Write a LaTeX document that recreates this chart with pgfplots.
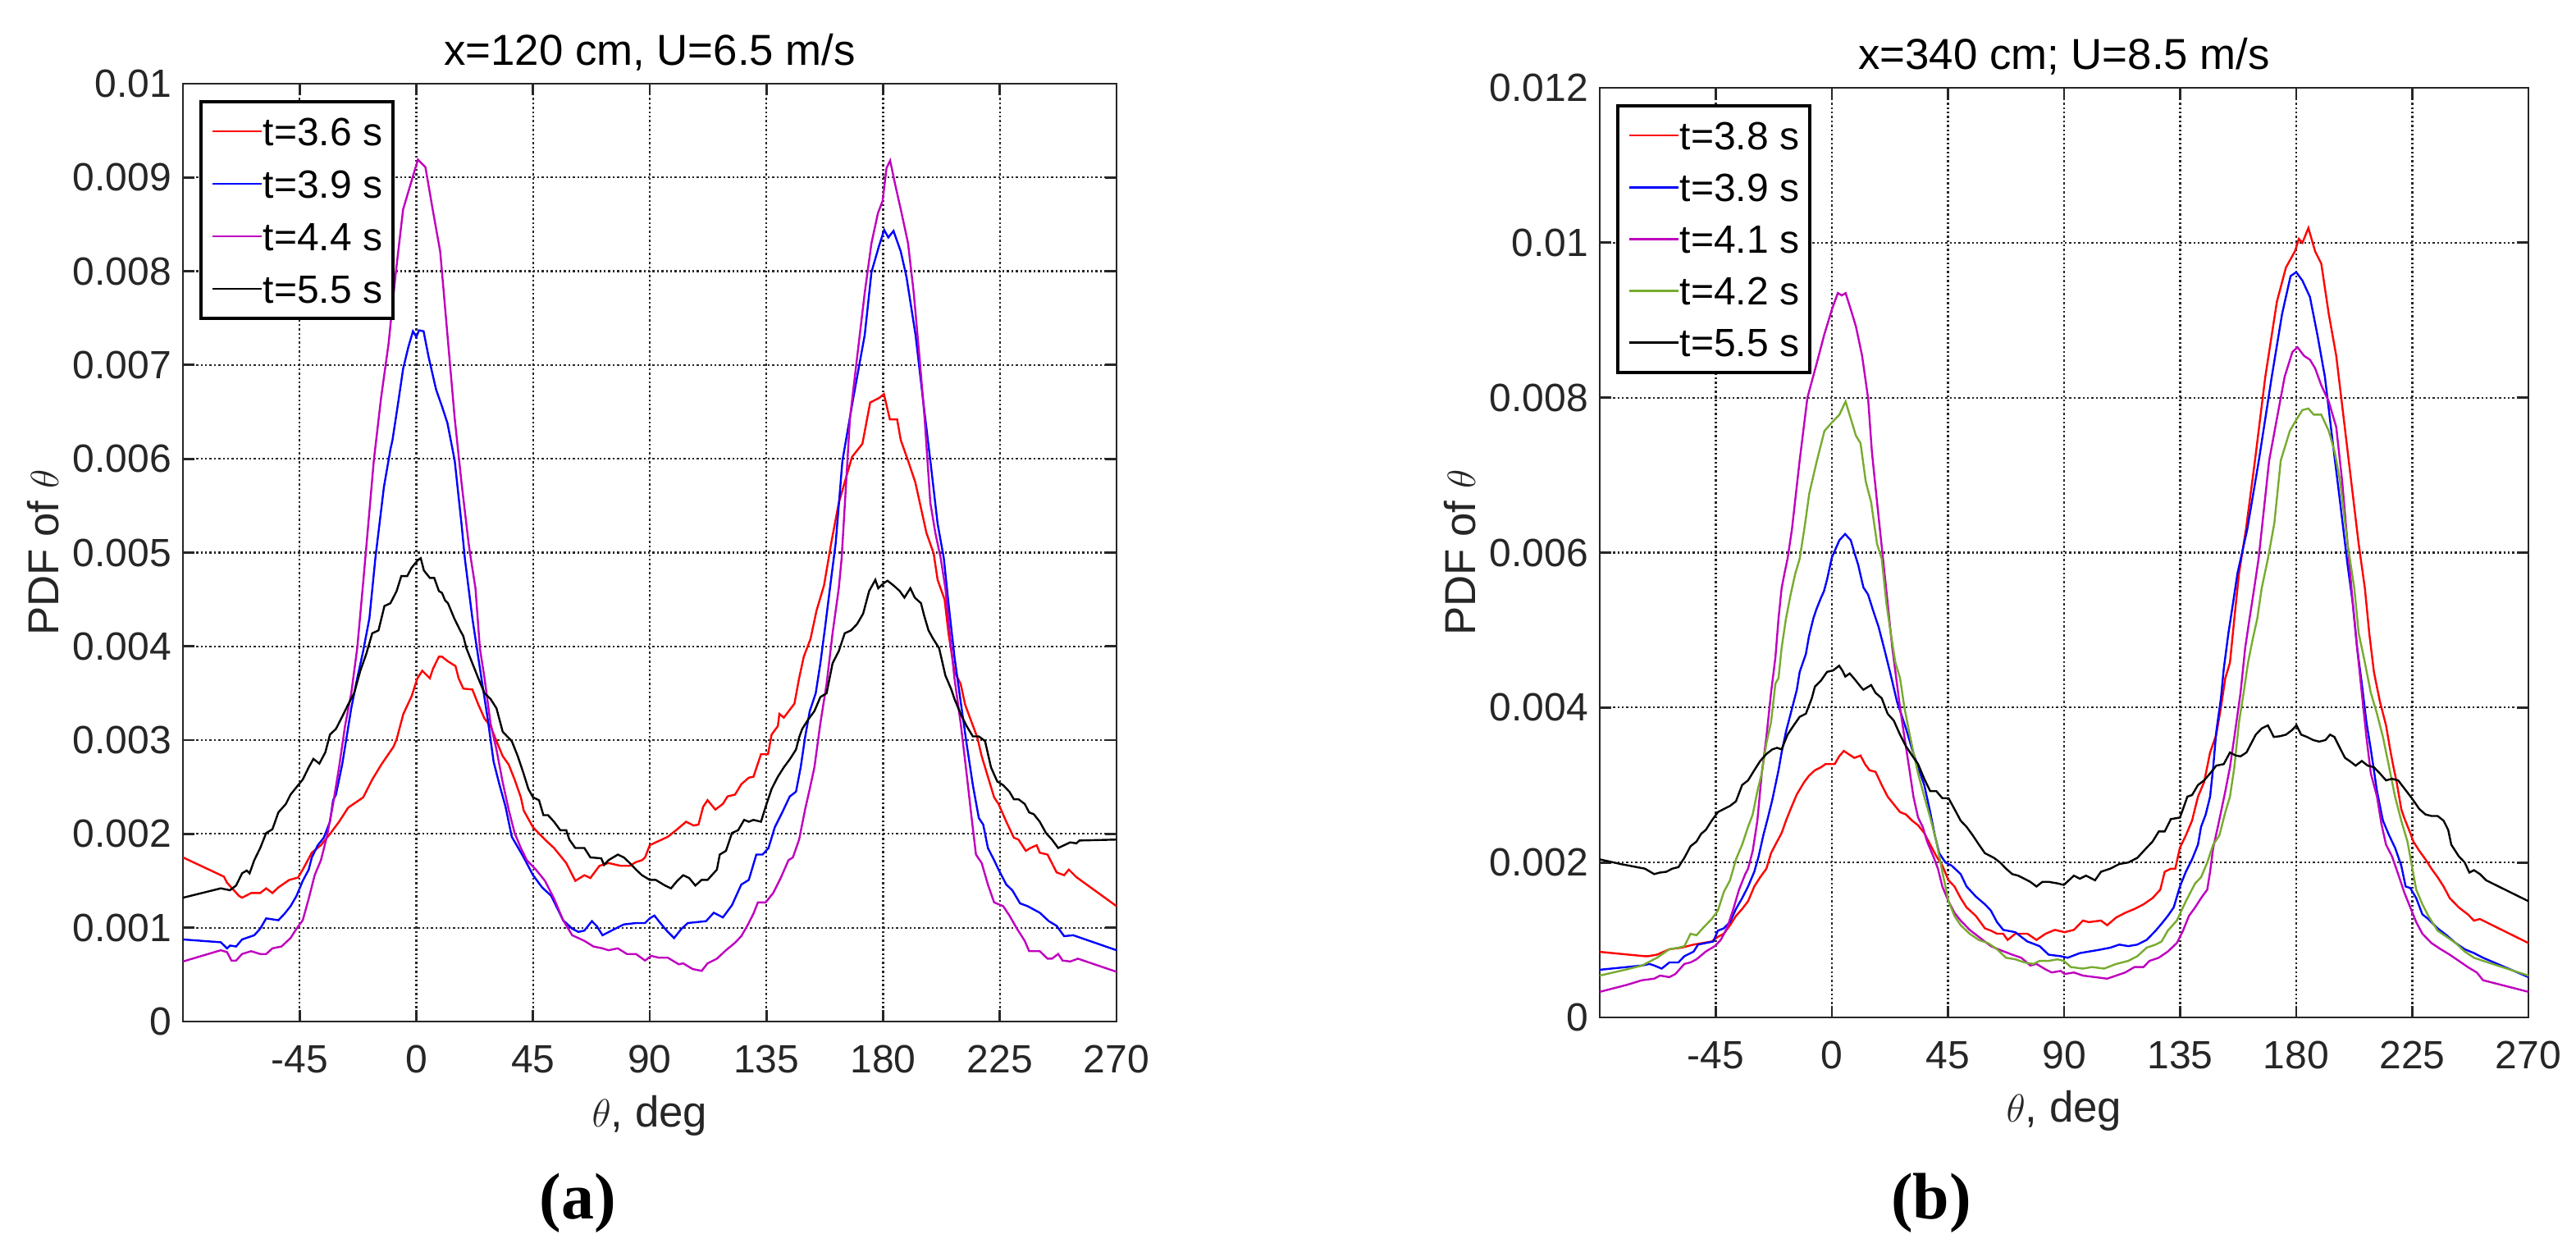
\documentclass[border=0pt]{standalone}
\usepackage{pgfplots}
\pgfplotsset{compat=1.18}
\usepackage{fontspec}
\setmainfont{Liberation Sans}
\newfontfamily\capfont{Liberation Serif}
\definecolor{axgray}{rgb}{0.15,0.15,0.15}
\definecolor{mmag}{rgb}{0.75,0,0.75}
\definecolor{mgreen}{rgb}{0.47,0.67,0.19}
\pgfplotsset{
  myax/.style={
    scale only axis, xmin=-90, xmax=270, ymin=0,
    xtick={-45,0,45,90,135,180,225,270},
    xticklabels={-45,0,45,90,135,180,225,270},
    scaled y ticks=false,
    tick align=inside, tick pos=both, major tick length=3.5pt,
    grid=major,
    major grid style={dash pattern=on 0.6pt off 0.75pt, line width=0.55pt, color=axgray},
    axis line style={line width=0.7pt, color=axgray},
    every tick/.style={line width=0.7pt, color=axgray},
    tick label style={font=\fontsize{12}{14}\selectfont, text=axgray},
    xticklabel style={anchor=base, yshift=-15.6pt},
    every axis title/.style={at={(0.5,1)}, anchor=base, yshift=5.5pt, font=\fontsize{13.2}{15}\selectfont},
    every axis x label/.style={at={(0.5,-0.1121)}, anchor=base, font=\fontsize{13.2}{15}\selectfont, text=axgray},
    every axis y label/.style={at={(-0.1334,0.5)}, rotate=90, anchor=base, font=\fontsize{13.2}{15}\selectfont, text=axgray},
    xlabel={$\theta$, deg}, ylabel={PDF of $\theta$},
    legend cell align=left,
    legend image code/.code={\draw[#1, line width=0.7pt] (0pt,0pt) -- (15pt,0pt);},
    legend style={at={(0,1)}, anchor=north west, xshift=5pt, yshift=-5pt,
      draw=black, line width=1pt, fill=white, font=\fontsize{12}{14}\selectfont,
      inner xsep=3.25pt, inner ysep=4.7pt,
      /tikz/every even column/.append style={column sep=1.25pt},
      nodes={inner sep=0pt, text height=8.6pt, text depth=0pt}},
    every axis plot/.append style={line width=0.6pt},
  }
}
\begin{document}
\begin{tikzpicture}
\useasboundingbox (0,0) rectangle (785pt,383pt);
% ---------------- (a) ----------------
\begin{axis}[myax, at={(55.75pt,71.75pt)}, anchor=south west,
  width=284.5pt, height=285.75pt, ymax=0.01,
  ytick={0,0.001,0.002,0.003,0.004,0.005,0.006,0.007,0.008,0.009,0.01},
  yticklabels={0,0.001,0.002,0.003,0.004,0.005,0.006,0.007,0.008,0.009,0.01},
  title={x=120 cm, U=6.5 m/s},
  legend style={row sep=7.4pt}]
\addplot[red] coordinates {(-90,1.75e-3)(-74.2,1.545e-3)(-73,1.48e-3)(-68.4,1.34e-3)(-67.2,1.32e-3)(-63.7,1.37e-3)(-60.2,1.37e-3)(-57.9,1.42e-3)(-55.5,1.37e-3)(-53.2,1.43e-3)(-49,1.51e-3)(-45.6,1.535e-3)(-43.8,1.62e-3)(-40.3,1.80e-3)(-36.8,1.88e-3)(-33.3,2.0e-3)(-29.8,2.13e-3)(-26.3,2.28e-3)(-20.5,2.39e-3)(-17,2.58e-3)(-13.5,2.74e-3)(-8.8,2.93e-3)(-7.6,3.01e-3)(-5,3.28e-3)(-1.8,3.47e-3)(0.4,3.66e-3)(2.3,3.74e-3)(5.2,3.66e-3)(6.4,3.76e-3)(8.7,3.89e-3)(9.9,3.89e-3)(12.2,3.84e-3)(15.1,3.79e-3)(16.3,3.66e-3)(18.1,3.55e-3)(21.6,3.54e-3)(23.9,3.38e-3)(26.3,3.23e-3)(28.6,3.15e-3)(30.9,2.99e-3)(33.3,2.83e-3)(35.6,2.74e-3)(37.9,2.58e-3)(40.3,2.39e-3)(41.4,2.25e-3)(45,2.07e-3)(49.6,1.94e-3)(53.1,1.85e-3)(57.8,1.69e-3)(61.3,1.50e-3)(64.8,1.56e-3)(67.1,1.53e-3)(70.6,1.66e-3)(74.1,1.69e-3)(78.8,1.66e-3)(82.3,1.66e-3)(84.7,1.70e-3)(87,1.72e-3)(88.2,1.75e-3)(90,1.88e-3)(92.3,1.91e-3)(97,1.97e-3)(100.6,2.05e-3)(104,2.13e-3)(106.9,2.09e-3)(108.8,2.10e-3)(110.6,2.29e-3)(112.3,2.36e-3)(115.3,2.26e-3)(118.2,2.32e-3)(120,2.40e-3)(122.9,2.42e-3)(125.3,2.53e-3)(128.2,2.60e-3)(130,2.61e-3)(132.9,2.85e-3)(135.6,2.85e-3)(137,3.06e-3)(139.4,3.15e-3)(140,3.28e-3)(141.7,3.24e-3)(145.8,3.39e-3)(147.6,3.66e-3)(149.4,3.89e-3)(152,4.08e-3)(154.3,4.38e-3)(157.2,4.65e-3)(160.1,5.12e-3)(162.9,5.53e-3)(168,6.02e-3)(172,6.16e-3)(175,6.60e-3)(178.5,6.65e-3)(180.3,6.69e-3)(182.6,6.42e-3)(185.4,6.42e-3)(186.8,6.20e-3)(189.6,5.98e-3)(192.4,5.75e-3)(196.7,5.21e-3)(199.5,4.99e-3)(201,4.71e-3)(203.7,4.5e-3)(205.2,4.14e-3)(207.5,3.73e-3)(209.9,3.60e-3)(211.6,3.38e-3)(214,3.20e-3)(216.3,3.03e-3)(218,2.83e-3)(220.4,2.61e-3)(222.8,2.39e-3)(224.5,2.32e-3)(227.5,2.13e-3)(230.4,1.96e-3)(232.2,1.94e-3)(235,1.82e-3)(236.8,1.85e-3)(239.2,1.88e-3)(240.4,1.80e-3)(243.4,1.78e-3)(246.9,1.59e-3)(249.8,1.56e-3)(251.6,1.62e-3)(254.5,1.54e-3)(270,1.23e-3)};
\addlegendentry{t=3.6 s}
\addplot[blue] coordinates {(-90,0.875e-3)(-75.4,0.845e-3)(-73,0.78e-3)(-71.8,0.81e-3)(-69.5,0.80e-3)(-67.2,0.875e-3)(-62.5,0.92e-3)(-60.2,0.99e-3)(-57.9,1.10e-3)(-53.2,1.08e-3)(-50.8,1.15e-3)(-48.5,1.23e-3)(-46.2,1.34e-3)(-43.8,1.50e-3)(-41.5,1.62e-3)(-40.3,1.75e-3)(-38,1.88e-3)(-35.7,1.96e-3)(-33.3,2.13e-3)(-32.1,2.36e-3)(-31,2.42e-3)(-28.6,2.74e-3)(-26.9,3.03e-3)(-25.1,3.34e-3)(-22.8,3.66e-3)(-20.5,3.95e-3)(-18.1,4.30e-3)(-15.8,4.94e-3)(-12.5,5.7e-3)(-10,6.1e-3)(-9.2,6.2e-3)(-7,6.6e-3)(-5.1,6.96e-3)(-3,7.2e-3)(-1.3,7.36e-3)(0,7.30e-3)(1,7.37e-3)(2.8,7.36e-3)(4.7,7.09e-3)(7.6,6.74e-3)(10,6.55e-3)(12,6.38e-3)(14.8,5.98e-3)(17.4,5.31e-3)(18.7,4.94e-3)(21.6,4.30e-3)(25.1,3.66e-3)(27.4,3.25e-3)(29.8,2.77e-3)(32.1,2.52e-3)(34.4,2.29e-3)(36.8,1.97e-3)(39.1,1.86e-3)(41.4,1.75e-3)(45,1.56e-3)(48.5,1.43e-3)(52,1.34e-3)(54.3,1.21e-3)(56.6,1.08e-3)(60.1,0.99e-3)(62.5,0.955e-3)(64.8,0.97e-3)(67.7,1.07e-3)(69.5,1.02e-3)(71.8,0.92e-3)(75.3,0.97e-3)(80,1.035e-3)(84.7,1.05e-3)(88.2,1.05e-3)(90,1.10e-3)(91.8,1.13e-3)(93.5,1.07e-3)(96.5,0.97e-3)(99.4,0.89e-3)(102.3,0.99e-3)(104.7,1.05e-3)(111.7,1.07e-3)(114.7,1.16e-3)(118.2,1.11e-3)(121.7,1.24e-3)(125.3,1.46e-3)(128.2,1.51e-3)(131.1,1.78e-3)(133.5,1.78e-3)(135.8,1.85e-3)(138.2,2.07e-3)(141.1,2.23e-3)(144,2.40e-3)(146.4,2.45e-3)(148.2,2.71e-3)(149.9,3.03e-3)(151.7,3.31e-3)(154,3.50e-3)(155.8,3.82e-3)(157.6,4.20e-3)(159.9,4.71e-3)(161.7,5.1e-3)(164.3,5.98e-3)(168.5,6.65e-3)(172.9,7.32e-3)(175.5,7.99e-3)(178.3,8.26e-3)(180.4,8.44e-3)(182,8.36e-3)(184,8.43e-3)(186.8,8.21e-3)(189,7.94e-3)(192.5,7.32e-3)(195.3,6.65e-3)(198.2,5.98e-3)(201,5.31e-3)(203.4,4.94e-3)(205.2,4.46e-3)(207.5,3.89e-3)(209.9,3.41e-3)(212.2,2.96e-3)(214.6,2.52e-3)(216.9,2.17e-3)(218.6,2.10e-3)(220.4,1.85e-3)(222.8,1.72e-3)(224.5,1.62e-3)(227.5,1.46e-3)(229.8,1.40e-3)(232.8,1.26e-3)(235.7,1.23e-3)(240.4,1.16e-3)(243.9,1.07e-3)(246.9,1.02e-3)(249.8,0.91e-3)(253.3,0.92e-3)(270,0.76e-3)};
\addlegendentry{t=3.9 s}
\addplot[mmag] coordinates {(-90,0.64e-3)(-75.4,0.76e-3)(-73,0.74e-3)(-71.3,0.65e-3)(-69.5,0.65e-3)(-67.2,0.72e-3)(-63.7,0.75e-3)(-60.2,0.72e-3)(-57.9,0.72e-3)(-55.5,0.78e-3)(-52,0.80e-3)(-48.5,0.89e-3)(-46.2,0.99e-3)(-43.8,1.08e-3)(-41.5,1.31e-3)(-39.2,1.56e-3)(-36.8,1.72e-3)(-34.5,1.97e-3)(-32.1,2.32e-3)(-29.8,2.71e-3)(-27.5,3.15e-3)(-25.1,3.50e-3)(-22.8,3.98e-3)(-20.5,4.68e-3)(-19.2,5.09e-3)(-16.4,5.98e-3)(-13.6,6.65e-3)(-10.7,7.23e-3)(-7.9,7.99e-3)(-5.1,8.66e-3)(-2.2,8.93e-3)(0.6,9.19e-3)(3.5,9.11e-3)(6.3,8.66e-3)(9.2,8.21e-3)(12,7.32e-3)(14.8,6.43e-3)(17.4,5.75e-3)(20.2,5.09e-3)(21,4.94e-3)(22.8,4.62e-3)(24.5,3.98e-3)(26.3,3.66e-3)(28.6,3.18e-3)(30.9,2.90e-3)(33.3,2.55e-3)(35.6,2.26e-3)(37.9,2.01e-3)(40.3,1.85e-3)(42.6,1.72e-3)(46.1,1.62e-3)(49.6,1.50e-3)(53.1,1.31e-3)(56.6,1.08e-3)(60.1,0.92e-3)(64.8,0.86e-3)(68.3,0.80e-3)(71.8,0.78e-3)(74.1,0.76e-3)(77.7,0.78e-3)(81.2,0.72e-3)(84.7,0.72e-3)(88.2,0.65e-3)(90.6,0.70e-3)(93.5,0.68e-3)(97,0.68e-3)(99.4,0.64e-3)(101.2,0.61e-3)(102.9,0.62e-3)(106.5,0.56e-3)(110,0.54e-3)(112.3,0.62e-3)(115.9,0.67e-3)(119.4,0.76e-3)(122.9,0.84e-3)(125.3,0.91e-3)(127.6,1.02e-3)(130,1.15e-3)(131.7,1.27e-3)(134.7,1.27e-3)(137.6,1.37e-3)(140.5,1.53e-3)(143.5,1.72e-3)(145.2,1.75e-3)(147.6,1.94e-3)(149.9,2.26e-3)(151.7,2.48e-3)(153.5,2.71e-3)(155.8,3.18e-3)(158.2,3.60e-3)(160.5,4.14e-3)(162.9,4.62e-3)(164,4.94e-3)(167.2,6.43e-3)(170,7.09e-3)(172.9,7.77e-3)(175.5,8.30e-3)(178,8.62e-3)(179.8,8.75e-3)(181.3,9.1e-3)(182.7,9.18e-3)(184.6,8.93e-3)(186.8,8.66e-3)(189.6,8.30e-3)(191.8,7.77e-3)(194,7.09e-3)(196,6.43e-3)(198.2,5.53e-3)(200.2,5.2e-3)(202.2,4.94e-3)(204,4.62e-3)(205.7,4.14e-3)(207.5,3.66e-3)(209.9,3.18e-3)(212.2,2.64e-3)(214,2.2e-3)(215.8,1.78e-3)(218,1.69e-3)(220.4,1.46e-3)(222.8,1.27e-3)(226.3,1.23e-3)(228.7,1.13e-3)(231.6,0.99e-3)(234.6,0.86e-3)(236.3,0.75e-3)(240.4,0.75e-3)(243.4,0.67e-3)(245.1,0.67e-3)(247.5,0.72e-3)(249.2,0.65e-3)(252.2,0.64e-3)(255.1,0.67e-3)(270,0.53e-3)};
\addlegendentry{t=4.4 s}
\addplot[black] coordinates {(-90,1.32e-3)(-75.4,1.42e-3)(-71.9,1.40e-3)(-69.5,1.45e-3)(-67.2,1.58e-3)(-65.4,1.61e-3)(-64.3,1.58e-3)(-62.5,1.72e-3)(-60.2,1.85e-3)(-57.9,2.01e-3)(-55.5,2.05e-3)(-53.2,2.23e-3)(-50.3,2.32e-3)(-48.5,2.42e-3)(-45.6,2.52e-3)(-43.8,2.58e-3)(-41.5,2.71e-3)(-39.7,2.80e-3)(-37.4,2.75e-3)(-35.1,2.87e-3)(-33.3,3.06e-3)(-31,3.12e-3)(-28.6,3.25e-3)(-26.3,3.38e-3)(-24,3.50e-3)(-21.6,3.74e-3)(-19.3,3.92e-3)(-17,4.14e-3)(-14.6,4.17e-3)(-12.3,4.43e-3)(-10,4.46e-3)(-7.6,4.59e-3)(-5.8,4.75e-3)(-3.5,4.75e-3)(-1.8,4.84e-3)(0.6,4.92e-3)(1.7,4.94e-3)(2.9,4.81e-3)(5.2,4.73e-3)(6.9,4.73e-3)(8.7,4.59e-3)(9.9,4.57e-3)(11.1,4.49e-3)(12.2,4.46e-3)(14.6,4.30e-3)(16.9,4.17e-3)(18.1,4.11e-3)(19.3,3.98e-3)(21.6,3.82e-3)(23.9,3.66e-3)(26.3,3.50e-3)(28.6,3.44e-3)(30.9,3.34e-3)(33.3,3.09e-3)(36.8,2.99e-3)(39.1,2.83e-3)(41.4,2.64e-3)(43.2,2.48e-3)(45,2.39e-3)(47.3,2.36e-3)(49,2.20e-3)(50.8,2.20e-3)(53.1,2.13e-3)(55.5,2.04e-3)(57.8,2.04e-3)(59,1.94e-3)(61.3,1.85e-3)(64.8,1.85e-3)(67.1,1.75e-3)(71.3,1.74e-3)(72.4,1.67e-3)(74.1,1.72e-3)(77.7,1.78e-3)(80,1.75e-3)(82.3,1.69e-3)(84.7,1.62e-3)(87,1.56e-3)(90,1.51e-3)(92.3,1.51e-3)(95.9,1.45e-3)(98.2,1.42e-3)(100.6,1.50e-3)(102.9,1.56e-3)(105.2,1.53e-3)(107.6,1.45e-3)(110,1.51e-3)(112.3,1.51e-3)(115.9,1.62e-3)(117,1.78e-3)(119.4,1.82e-3)(121.7,2.01e-3)(124.1,2.04e-3)(126.4,2.15e-3)(128.2,2.13e-3)(130,2.15e-3)(132.9,2.13e-3)(134.7,2.29e-3)(137,2.48e-3)(139.4,2.61e-3)(141.7,2.71e-3)(144.1,2.80e-3)(146.4,2.90e-3)(147.6,3.03e-3)(148.8,3.12e-3)(151.1,3.22e-3)(153.5,3.31e-3)(155.8,3.46e-3)(158.2,3.50e-3)(160.5,3.82e-3)(162.9,3.95e-3)(165.2,4.14e-3)(167.6,4.17e-3)(170,4.24e-3)(172.3,4.35e-3)(174.6,4.59e-3)(177,4.71e-3)(178.1,4.62e-3)(180.5,4.68e-3)(181.7,4.70e-3)(184,4.65e-3)(186.4,4.59e-3)(188.2,4.52e-3)(190.5,4.62e-3)(192.2,4.52e-3)(194.6,4.46e-3)(195.8,4.33e-3)(197.5,4.17e-3)(199.3,4.08e-3)(201.6,3.98e-3)(204,3.69e-3)(206.3,3.54e-3)(207.5,3.44e-3)(209.9,3.28e-3)(212.2,3.15e-3)(214.6,3.04e-3)(216.9,3.04e-3)(219.3,2.99e-3)(221.6,2.71e-3)(224,2.56e-3)(226.3,2.52e-3)(228.7,2.45e-3)(230.4,2.37e-3)(232.2,2.37e-3)(234.6,2.32e-3)(236.3,2.23e-3)(238.1,2.21e-3)(240.4,2.13e-3)(242.8,2.01e-3)(245.1,1.94e-3)(247.5,1.85e-3)(249.8,1.88e-3)(252.1,1.91e-3)(254.5,1.90e-3)(255.7,1.93e-3)(270,1.94e-3)};
\addlegendentry{t=5.5 s}
\end{axis}
% ---------------- (b) ----------------
\begin{axis}[myax, at={(487.5pt,73pt)}, anchor=south west,
  width=283pt, height=283.25pt, ymax=0.012,
  ytick={0,0.002,0.004,0.006,0.008,0.01,0.012},
  yticklabels={0,0.002,0.004,0.006,0.008,0.01,0.012},
  title={x=340 cm; U=8.5 m/s},
  legend style={row sep=7.2pt}]
\addplot[red] coordinates {(-90,0.846e-3)(-72.5,0.79e-3)(-71.3,0.79e-3)(-67.8,0.81e-3)(-63,0.88e-3)(-58.4,0.90e-3)(-53.6,0.94e-3)(-50.1,0.96e-3)(-46.6,0.98e-3)(-44.2,1.04e-3)(-41.9,1.08e-3)(-39.5,1.19e-3)(-37.2,1.31e-3)(-34.8,1.40e-3)(-32.5,1.50e-3)(-30.1,1.69e-3)(-27.8,1.81e-3)(-25.4,1.92e-3)(-23.6,2.12e-3)(-21.9,2.23e-3)(-19.5,2.38e-3)(-17.8,2.54e-3)(-16,2.69e-3)(-13.6,2.88e-3)(-10.7,3.04e-3)(-8.9,3.12e-3)(-6.6,3.19e-3)(-4.2,3.23e-3)(-2.5,3.27e-3)(-0.7,3.27e-3)(1.1,3.27e-3)(2.8,3.37e-3)(4.6,3.44e-3)(6.4,3.40e-3)(8.7,3.35e-3)(11.1,3.38e-3)(12.8,3.27e-3)(14.6,3.19e-3)(16.9,3.17e-3)(19.3,3.0e-3)(21.6,2.85e-3)(24,2.75e-3)(26.4,2.65e-3)(28.7,2.62e-3)(31.1,2.54e-3)(33.4,2.48e-3)(35.8,2.38e-3)(38.1,2.23e-3)(40.5,2.08e-3)(42.8,1.96e-3)(45.2,1.77e-3)(47.5,1.69e-3)(49.9,1.54e-3)(52.2,1.42e-3)(55.8,1.31e-3)(59.3,1.15e-3)(61.6,1.12e-3)(64,1.08e-3)(66.4,1.08e-3)(68.1,1.0e-3)(71.1,1.08e-3)(75.8,1.08e-3)(79.3,1.0e-3)(82.8,1.08e-3)(86.4,1.13e-3)(90.2,1.10e-3)(93.8,1.13e-3)(97.3,1.25e-3)(99.6,1.23e-3)(104.3,1.25e-3)(106.7,1.19e-3)(110.2,1.29e-3)(113.7,1.35e-3)(117.3,1.40e-3)(120.8,1.46e-3)(124.3,1.54e-3)(127.3,1.65e-3)(129,1.88e-3)(131.4,1.92e-3)(133.1,1.92e-3)(134.9,2.19e-3)(137.2,2.35e-3)(139.6,2.54e-3)(141.9,2.85e-3)(144.3,3.04e-3)(146.6,3.42e-3)(149,3.65e-3)(150.8,4.0e-3)(152.5,4.38e-3)(154.3,4.58e-3)(156,5.15e-3)(157.8,5.73e-3)(160.5,6.3e-3)(164,7.19e-3)(168,8.27e-3)(172.5,9.24e-3)(176,9.68e-3)(179.5,9.89e-3)(181,10.05e-3)(182.4,10.0e-3)(184.7,10.19e-3)(187.3,9.89e-3)(189.7,9.73e-3)(192.6,9.08e-3)(195.5,8.54e-3)(198.4,7.73e-3)(201.3,6.92e-3)(204.2,6.11e-3)(206.6,5.54e-3)(208.3,4.96e-3)(210.1,4.46e-3)(212.4,4.08e-3)(214.8,3.77e-3)(216.6,3.42e-3)(217.7,3.23e-3)(218.9,3.04e-3)(220.7,2.69e-3)(221.8,2.58e-3)(224.2,2.38e-3)(225.4,2.27e-3)(227.7,2.15e-3)(230.1,2.04e-3)(232.4,1.92e-3)(234.8,1.81e-3)(237.1,1.69e-3)(239.5,1.54e-3)(243,1.42e-3)(246.5,1.33e-3)(248.9,1.25e-3)(251.2,1.27e-3)(253.6,1.23e-3)(270,0.96e-3)};
\addlegendentry{t=3.8 s}
\addplot[blue] coordinates {(-90,0.615e-3)(-73.6,0.67e-3)(-70.7,0.69e-3)(-68.9,0.67e-3)(-66,0.63e-3)(-63,0.71e-3)(-59.5,0.71e-3)(-57.2,0.79e-3)(-53.6,0.85e-3)(-51.9,0.94e-3)(-48.9,0.96e-3)(-46,0.98e-3)(-44.2,1.12e-3)(-41.9,1.15e-3)(-39.5,1.23e-3)(-37.2,1.40e-3)(-34.8,1.54e-3)(-32.5,1.69e-3)(-30.1,1.88e-3)(-28.4,2.08e-3)(-26.6,2.35e-3)(-24.8,2.58e-3)(-23.1,2.81e-3)(-20.7,3.19e-3)(-19.5,3.42e-3)(-17.8,3.69e-3)(-16,3.92e-3)(-13.6,4.23e-3)(-12.5,4.46e-3)(-10.1,4.69e-3)(-8.9,4.92e-3)(-7.2,5.15e-3)(-6,5.27e-3)(-4.2,5.42e-3)(-3.1,5.5e-3)(-1.9,5.65e-3)(0,5.94e-3)(2.9,6.16e-3)(5.1,6.24e-3)(7.3,6.16e-3)(8.7,6.0e-3)(10.2,5.84e-3)(12.2,5.55e-3)(14,5.46e-3)(15.8,5.27e-3)(18.1,5.04e-3)(20.5,4.73e-3)(22.8,4.42e-3)(25.2,4.08e-3)(26.4,3.96e-3)(28.7,3.73e-3)(31.1,3.46e-3)(33.4,3.23e-3)(35.8,3.0e-3)(38.1,2.65e-3)(39.9,2.35e-3)(41.6,2.12e-3)(44,2.0e-3)(46.4,1.96e-3)(49.9,1.85e-3)(52.2,1.69e-3)(55.8,1.56e-3)(59.3,1.46e-3)(61.6,1.38e-3)(64,1.23e-3)(66.4,1.13e-3)(71.1,1.10e-3)(73.4,1.04e-3)(75.8,0.98e-3)(80.5,0.92e-3)(84,0.81e-3)(88.7,0.79e-3)(91.4,0.77e-3)(96.1,0.83e-3)(99.6,0.85e-3)(103.2,0.87e-3)(107.9,0.90e-3)(111.4,0.94e-3)(114.9,0.92e-3)(118.4,0.94e-3)(122,1.0e-3)(125.5,1.12e-3)(127.8,1.21e-3)(130.2,1.31e-3)(132.5,1.42e-3)(134.9,1.69e-3)(137.2,1.88e-3)(139.6,2.04e-3)(141.9,2.23e-3)(143.1,2.46e-3)(144.9,2.62e-3)(146.6,2.85e-3)(147.8,3.23e-3)(149,3.69e-3)(150.8,4.12e-3)(151.9,4.50e-3)(153.7,4.96e-3)(155.5,5.35e-3)(157.2,5.73e-3)(161,6.3e-3)(165.5,7.19e-3)(170.5,8.27e-3)(174.5,9.08e-3)(177.8,9.57e-3)(180,9.62e-3)(182.4,9.51e-3)(185.3,9.30e-3)(188.2,8.81e-3)(191.1,8.27e-3)(194,7.46e-3)(197,6.65e-3)(199.9,5.84e-3)(201.9,5.35e-3)(203.6,4.77e-3)(205.4,4.31e-3)(207.2,3.81e-3)(208.9,3.46e-3)(211.3,2.92e-3)(213.6,2.54e-3)(216,2.35e-3)(218.3,2.19e-3)(220.7,1.96e-3)(222.4,1.69e-3)(224.2,1.67e-3)(226.5,1.54e-3)(228.9,1.33e-3)(231.2,1.27e-3)(234.8,1.15e-3)(238.3,1.06e-3)(241.8,0.96e-3)(245.3,0.88e-3)(248.9,0.83e-3)(252.4,0.77e-3)(270,0.52e-3)};
\addlegendentry{t=3.9 s}
\addplot[mmag] coordinates {(-90,0.33e-3)(-79.5,0.42e-3)(-73.6,0.48e-3)(-68.9,0.50e-3)(-66.6,0.54e-3)(-63,0.52e-3)(-60.7,0.56e-3)(-57.2,0.69e-3)(-54.8,0.71e-3)(-52.5,0.75e-3)(-48.9,0.85e-3)(-45.4,0.92e-3)(-43.1,1.0e-3)(-40.7,1.15e-3)(-38.4,1.38e-3)(-36,1.65e-3)(-33.6,1.85e-3)(-32.5,1.92e-3)(-30.7,2.15e-3)(-28.9,2.54e-3)(-27.2,3.15e-3)(-25.4,3.62e-3)(-23.6,4.19e-3)(-21.9,4.65e-3)(-20.7,5.15e-3)(-19.5,5.54e-3)(-18.4,5.73e-3)(-17.2,5.92e-3)(-15.5,6.3e-3)(-12.5,7.19e-3)(-9.5,8.0e-3)(-6,8.43e-3)(-3,8.81e-3)(0,9.14e-3)(2.3,9.35e-3)(3.8,9.32e-3)(5.3,9.35e-3)(7.3,9.14e-3)(9.3,8.92e-3)(11.7,8.54e-3)(14,8.0e-3)(15.5,7.3e-3)(17.5,6.65e-3)(20.5,5.7e-3)(21.6,5.35e-3)(23.4,4.77e-3)(25.2,4.31e-3)(26.4,4.0e-3)(28.1,3.62e-3)(29.9,3.23e-3)(31.6,2.85e-3)(33.4,2.58e-3)(35.2,2.46e-3)(36.9,2.27e-3)(39.3,2.08e-3)(41.1,1.92e-3)(42.8,1.69e-3)(45.2,1.50e-3)(47.5,1.35e-3)(49.9,1.25e-3)(53.4,1.13e-3)(56.9,1.04e-3)(61.6,0.92e-3)(65.2,0.87e-3)(69.9,0.81e-3)(73.4,0.77e-3)(76.9,0.67e-3)(79.3,0.69e-3)(82.8,0.62e-3)(85.2,0.58e-3)(88.7,0.60e-3)(90.2,0.56e-3)(93.8,0.58e-3)(97.3,0.54e-3)(102,0.52e-3)(106.7,0.50e-3)(110.2,0.54e-3)(113.7,0.58e-3)(117.3,0.65e-3)(120.8,0.65e-3)(123.1,0.73e-3)(126.7,0.77e-3)(130.2,0.85e-3)(133.7,0.96e-3)(136.1,1.12e-3)(138.4,1.31e-3)(140.8,1.42e-3)(143.1,1.54e-3)(145.5,1.65e-3)(146.6,1.88e-3)(147.8,2.19e-3)(149.6,2.46e-3)(150.8,2.65e-3)(152.5,2.92e-3)(154.3,3.23e-3)(156,3.62e-3)(158.4,4.19e-3)(160.2,4.77e-3)(161.9,5.15e-3)(163.7,5.54e-3)(165.4,5.92e-3)(169.5,7.19e-3)(172.5,7.73e-3)(175.5,8.27e-3)(178.5,8.59e-3)(180.5,8.65e-3)(183,8.54e-3)(185.3,8.49e-3)(187.3,8.38e-3)(189.7,8.16e-3)(192.6,7.95e-3)(195.5,7.62e-3)(197.8,6.92e-3)(199.9,6.11e-3)(201.9,5.35e-3)(203.6,4.77e-3)(205.4,4.19e-3)(207.2,3.62e-3)(208.9,3.15e-3)(211.3,2.85e-3)(213,2.50e-3)(214.8,2.23e-3)(217.1,2.08e-3)(219.5,1.85e-3)(221.8,1.62e-3)(224.2,1.42e-3)(226.5,1.23e-3)(228.9,1.08e-3)(232.4,0.96e-3)(236,0.88e-3)(239.5,0.81e-3)(243,0.73e-3)(246.5,0.65e-3)(250,0.58e-3)(252.4,0.48e-3)(270,0.33e-3)};
\addlegendentry{t=4.1 s}
\addplot[mgreen] coordinates {(-90,0.54e-3)(-79.5,0.62e-3)(-73.6,0.67e-3)(-67.8,0.77e-3)(-63,0.88e-3)(-59.5,0.90e-3)(-57.2,0.92e-3)(-54.8,1.08e-3)(-52.5,1.06e-3)(-50.1,1.15e-3)(-46.6,1.27e-3)(-44.2,1.38e-3)(-41.9,1.62e-3)(-39.5,1.77e-3)(-37.2,2.04e-3)(-34.8,2.23e-3)(-32.5,2.46e-3)(-30.7,2.62e-3)(-28.9,2.92e-3)(-27.2,3.15e-3)(-25.4,3.54e-3)(-23.6,3.81e-3)(-21.9,4.31e-3)(-20.7,4.38e-3)(-19.5,4.77e-3)(-17.8,5.15e-3)(-16,5.46e-3)(-14.2,5.73e-3)(-12.5,5.92e-3)(-10.5,6.35e-3)(-8.8,6.76e-3)(-5.8,7.19e-3)(-2.9,7.57e-3)(0,7.68e-3)(2.9,7.78e-3)(5.3,7.95e-3)(7.3,7.73e-3)(9.3,7.51e-3)(11.1,7.41e-3)(13.1,6.92e-3)(15.2,6.65e-3)(17.5,6.11e-3)(19.3,5.92e-3)(21.1,5.35e-3)(22.8,4.96e-3)(24.6,4.58e-3)(26.4,4.38e-3)(28.1,4.0e-3)(29.9,3.69e-3)(31.6,3.42e-3)(33.4,3.15e-3)(35.8,2.85e-3)(38.1,2.58e-3)(40.5,2.27e-3)(42.8,1.88e-3)(45.2,1.50e-3)(47.5,1.31e-3)(49.9,1.19e-3)(53.4,1.08e-3)(56.9,1.0e-3)(60.5,0.96e-3)(64,0.88e-3)(67.5,0.77e-3)(71.1,0.75e-3)(74.6,0.71e-3)(78.1,0.69e-3)(80.5,0.73e-3)(84,0.73e-3)(87.5,0.75e-3)(89.9,0.73e-3)(92.6,0.65e-3)(97.3,0.63e-3)(100.8,0.65e-3)(105.5,0.63e-3)(110.2,0.69e-3)(114.9,0.73e-3)(118.4,0.79e-3)(122,0.90e-3)(125.5,0.94e-3)(127.8,0.98e-3)(130.2,1.12e-3)(133.7,1.25e-3)(137.2,1.50e-3)(140.8,1.73e-3)(143.1,1.81e-3)(145.5,2.0e-3)(147.8,2.23e-3)(150.2,2.35e-3)(152.5,2.65e-3)(154.3,2.85e-3)(156,3.23e-3)(157.8,3.81e-3)(159.6,4.19e-3)(161.3,4.58e-3)(163.1,4.88e-3)(164.9,5.15e-3)(166.6,5.54e-3)(169,5.92e-3)(171.5,6.38e-3)(174,7.19e-3)(177.5,7.57e-3)(180.3,7.73e-3)(182.4,7.84e-3)(184.7,7.86e-3)(186.8,7.78e-3)(189.7,7.78e-3)(192.6,7.57e-3)(194.9,7.30e-3)(197,6.92e-3)(199.9,6.11e-3)(202.5,5.54e-3)(204.2,4.96e-3)(206.6,4.58e-3)(208.9,4.19e-3)(211.3,3.92e-3)(213.6,3.62e-3)(216,3.23e-3)(218.3,2.85e-3)(220.7,2.54e-3)(223.1,2.27e-3)(224.8,1.96e-3)(226.5,1.65e-3)(228.9,1.46e-3)(231.2,1.31e-3)(234.8,1.12e-3)(238.3,1.04e-3)(241.8,0.96e-3)(245.3,0.85e-3)(248.9,0.77e-3)(252.4,0.73e-3)(270,0.54e-3)};
\addlegendentry{t=4.2 s}
\addplot[black] coordinates {(-90,2.04e-3)(-81.9,1.98e-3)(-72.5,1.92e-3)(-68.9,1.85e-3)(-66.6,1.87e-3)(-64.2,1.88e-3)(-61.9,1.92e-3)(-59.5,1.94e-3)(-57.2,2.06e-3)(-54.8,2.21e-3)(-52.5,2.27e-3)(-50.7,2.37e-3)(-48.9,2.42e-3)(-46.6,2.54e-3)(-44.2,2.65e-3)(-41.9,2.69e-3)(-39.5,2.73e-3)(-37.2,2.79e-3)(-34.8,3.0e-3)(-32.5,3.06e-3)(-30.1,3.19e-3)(-27.8,3.31e-3)(-25.4,3.40e-3)(-23.1,3.46e-3)(-21.3,3.48e-3)(-19.5,3.46e-3)(-17.2,3.65e-3)(-14.8,3.77e-3)(-12.5,3.88e-3)(-10.1,3.92e-3)(-7.8,4.12e-3)(-6.6,4.27e-3)(-4.2,4.35e-3)(-1.9,4.46e-3)(0.5,4.48e-3)(2.8,4.54e-3)(4,4.48e-3)(5.2,4.40e-3)(6.9,4.44e-3)(8.7,4.37e-3)(11.1,4.27e-3)(12.2,4.23e-3)(15.2,4.29e-3)(16.9,4.19e-3)(19.3,4.12e-3)(21.6,3.92e-3)(24,3.83e-3)(26.4,3.65e-3)(28.7,3.5e-3)(31.1,3.38e-3)(33.4,3.27e-3)(35.8,3.08e-3)(38.1,2.92e-3)(40.5,2.92e-3)(42.8,2.83e-3)(45.2,2.83e-3)(47.5,2.69e-3)(49.9,2.54e-3)(52.2,2.46e-3)(54.6,2.35e-3)(57,2.23e-3)(59.3,2.12e-3)(62.8,2.06e-3)(65.2,2.0e-3)(67.5,1.92e-3)(69.9,1.85e-3)(72.2,1.83e-3)(74.6,1.79e-3)(76.9,1.75e-3)(79.3,1.69e-3)(81.6,1.75e-3)(84,1.75e-3)(87.5,1.73e-3)(89.9,1.71e-3)(93.8,1.83e-3)(96.1,1.79e-3)(98.5,1.83e-3)(102,1.77e-3)(104.3,1.88e-3)(107.9,1.92e-3)(111.4,1.98e-3)(114.9,2.0e-3)(118.4,2.06e-3)(122,2.19e-3)(124.3,2.27e-3)(126.7,2.40e-3)(129,2.40e-3)(131.4,2.56e-3)(134.9,2.58e-3)(136.1,2.69e-3)(137.8,2.85e-3)(139.6,2.87e-3)(141.9,3.0e-3)(144.3,3.06e-3)(146.6,3.15e-3)(149,3.25e-3)(151.9,3.27e-3)(154.3,3.42e-3)(156.6,3.38e-3)(158.4,3.37e-3)(160.7,3.42e-3)(164.3,3.65e-3)(166.6,3.73e-3)(169,3.77e-3)(171.3,3.62e-3)(173.7,3.63e-3)(176,3.65e-3)(178.4,3.71e-3)(180.1,3.77e-3)(181.9,3.65e-3)(184.2,3.62e-3)(186.6,3.58e-3)(188.9,3.56e-3)(191.3,3.58e-3)(193.1,3.65e-3)(194.8,3.62e-3)(197.2,3.46e-3)(198.9,3.35e-3)(200.7,3.31e-3)(203,3.25e-3)(205.4,3.31e-3)(207.7,3.25e-3)(210.1,3.23e-3)(212.4,3.15e-3)(214.8,3.06e-3)(217.1,3.08e-3)(219.5,3.06e-3)(221.8,2.96e-3)(224.8,2.83e-3)(227.7,2.69e-3)(230.1,2.62e-3)(232.4,2.60e-3)(234.8,2.60e-3)(237.1,2.54e-3)(238.9,2.42e-3)(240.1,2.23e-3)(243,2.08e-3)(245.3,2.0e-3)(247.1,1.87e-3)(248.9,1.90e-3)(251.2,1.85e-3)(253.6,1.77e-3)(270,1.50e-3)};
\addlegendentry{t=5.5 s}
\end{axis}
\node[anchor=base, font=\fontsize{20}{22}\selectfont\capfont\bfseries] at (176pt,11.5pt) {(a)};
\node[anchor=base, font=\fontsize{20}{22}\selectfont\capfont\bfseries] at (588.5pt,11.5pt) {(b)};
\end{tikzpicture}
\end{document}
